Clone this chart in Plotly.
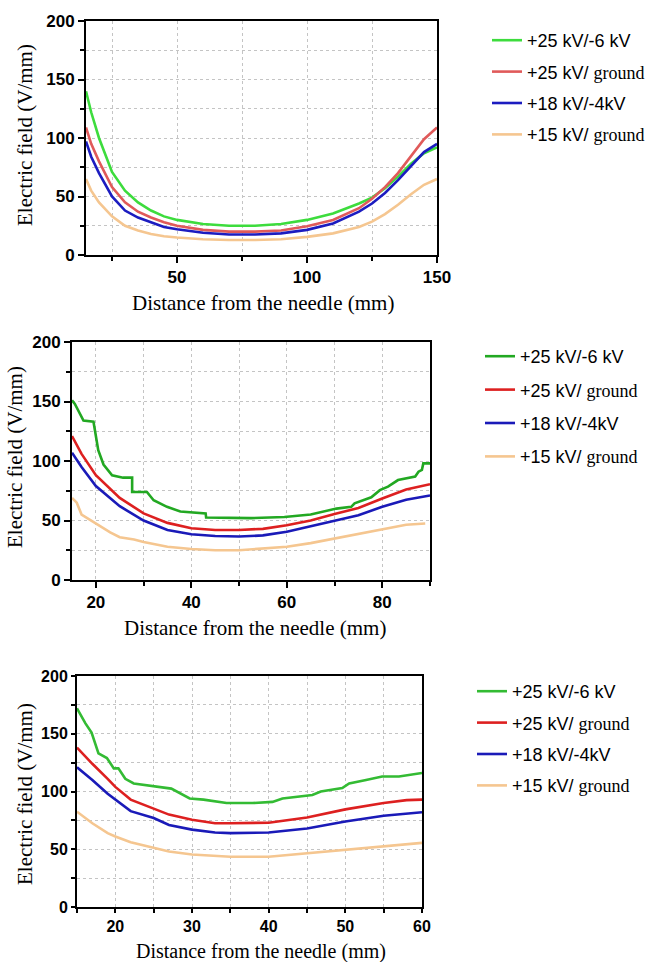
import plotly.graph_objects as go

# ---------------- data ----------------
names = ["+25 kV/-6 kV", "+25 kV/ ground", "+18 kV/-4kV", "+15 kV/ ground"]

# Panel 1 (needle distance 15-150 mm)
p1_x = [15, 17, 20, 25, 30, 35, 40, 45, 50, 60, 70, 80, 90, 100, 110, 120, 125, 130, 135, 140, 145, 150]
p1_green = [140, 122, 100, 71, 55, 45, 38, 33, 30, 26.5, 25, 25, 26.5, 30, 35.5, 44, 49, 57, 67, 78, 87, 92]
p1_red = [109, 95, 80, 58, 45, 37, 32, 28, 25, 21.5, 20, 20, 21, 24.5, 30, 40, 48, 58, 70, 84, 99, 109]
p1_blue = [97, 84, 70, 50, 38, 32, 28, 24, 22, 19, 17.5, 17.5, 18.5, 21.5, 27, 37, 44, 53, 64, 76, 88, 95]
p1_tan = [65, 55, 45, 33, 25, 21, 18, 16, 15, 13.5, 12.8, 12.8, 13.5, 15.5, 18.5, 24, 28.5, 35, 43, 52, 60, 65]

# Panel 2 (15-90 mm)
p2_green_x = [15, 15.6, 17.4, 19.5, 20.5, 21.6, 23.4, 25.7, 27.6, 27.6, 30.7, 32.1, 34.9, 37.7, 43, 43.1,
              52.5, 59.5, 65, 69.3, 70.4, 73.5, 74.2, 77.7, 79.5, 81.2, 83.3, 86.9, 87.6, 88.3, 88.6, 90]
p2_green = [151, 148, 134, 133, 109, 97, 88, 86, 86, 74, 74, 67, 61.5, 57.5, 56, 52.5,
            52, 53, 55, 59, 60, 61.5, 64.5, 69.5, 75.5, 78.5, 84, 87, 91, 92.5, 98, 98]
p2_x = [15, 17, 20, 25, 30, 35, 40, 45, 50, 55, 60, 65, 70, 75, 80, 85, 90]
p2_red = [121, 106, 88, 69, 56, 48, 43.5, 42, 42, 43, 46, 50, 55.5, 60.5, 68.5, 76, 80.5]
p2_blue = [107, 95, 79, 62, 50, 42, 38.5, 37, 36.5, 37.5, 40.5, 45, 49.5, 54.5, 61.5, 67.5, 71]
p2_tan_x = [15, 16, 17, 19, 21, 23, 25, 28, 30, 35, 40, 45, 50, 55, 60, 65, 70, 75, 80, 85, 89]
p2_tan = [69, 65, 55, 50, 45, 40, 36, 34, 32, 28, 26, 25, 25, 26.5, 28, 31, 35, 38.5, 43, 46.5, 47.5]

# Panel 3 (15-60 mm)
p3_green_x = [15, 16.1, 16.9, 17.8, 18.9, 19.8, 20.4, 21.3, 22.4, 24.5, 27.3, 29.7, 31.5, 34.5, 37.9,
              40.5, 41.8, 45.7, 46.8, 49.6, 50.5, 52.7, 54.8, 57, 60]
p3_green = [172, 159, 151, 133, 129, 120, 120, 111, 107, 105, 102.5, 94, 93, 90, 90,
            91, 94, 97, 100, 103, 107, 110, 113, 113, 116]
p3_x = [15, 17, 19, 20, 22, 25, 27, 30, 33, 35, 40, 45, 50, 55, 58, 60]
p3_red = [138, 124, 111, 104, 93, 85.5, 80, 75.5, 72.5, 72.5, 73, 77.5, 84.5, 90, 92.5, 93]
p3_blue = [121, 110, 98, 93, 83, 77, 71, 67, 64.5, 64, 64.5, 68, 74, 79, 81, 82]
p3_tan = [82.5, 72.5, 64, 61, 56, 51, 48, 45.5, 44, 43.5, 43.5, 46.5, 50, 53, 54.5, 55.5]

# ---------------- styling ----------------
W, H = 662, 962
SERIF = "Liberation Serif"
SANS = "Liberation Sans"


def legend_name(n):
    if "ground" in n:
        head = n.replace("ground", "")
        return head + '<span style="font-family:\'%s\'">ground</span>' % SERIF
    return n


panels = [
    dict(series=[(p1_x, p1_green), (p1_x, p1_red), (p1_x, p1_blue), (p1_x, p1_tan)],
         colors=["#3ddc3d", "#e05a5a", "#1c1cc0", "#f5c690"],
         px=(86, 437), py=(21, 255), xr=[15, 150], xd=50, xm=25, tl=6, tf=17),
    dict(series=[(p2_green_x, p2_green), (p2_x, p2_red), (p2_x, p2_blue), (p2_tan_x, p2_tan)],
         colors=["#22a822", "#dd2020", "#1a1ab8", "#f5c690"],
         px=(72, 430), py=(342, 580), xr=[15, 90], xd=20, xm=10, tl=6, tf=17),
    dict(series=[(p3_green_x, p3_green), (p3_x, p3_red), (p3_x, p3_blue), (p3_x, p3_tan)],
         colors=["#33bb33", "#dd2020", "#1a1ab8", "#f5c690"],
         px=(77, 422), py=(676, 907), xr=[15, 60], xd=10, xm=5, tl=4, tf=16),
]

legend_pos = [(487, 22), (480, 338), (472, 673)]
legend_gap = [5, 7, 5]
xtitle_pos = [(263, 303, 21), (255, 628, 21), (261, 951, 20)]
ytitle_pos = [(25, 135), (15, 457), (25, 794)]

fig = go.Figure()
layout = dict(width=W, height=H, margin=dict(l=0, r=0, t=0, b=0),
              paper_bgcolor="white", plot_bgcolor="white", showlegend=True,
              annotations=[])

for i, p in enumerate(panels):
    k = "" if i == 0 else str(i + 1)
    leg = "legend" + k
    for j, (xs, ys) in enumerate(p["series"]):
        fig.add_trace(go.Scatter(
            x=xs, y=ys, mode="lines", name=legend_name(names[j]),
            line=dict(color=p["colors"][j], width=2.6),
            xaxis="x" + k, yaxis="y" + k, legend=leg,
            legendgroup="g%d_%d" % (i, j)))
    axis_common = dict(showline=True, linecolor="black", linewidth=2, mirror=True,
                       ticks="outside", ticklen=p["tl"], tickwidth=2, tickcolor="black",
                       showgrid=True, gridcolor="#c4c4c4", griddash="dot", gridwidth=1,
                       zeroline=False, automargin=False,
                       tickfont=dict(family=SANS, size=p["tf"], color="black", weight="bold"))
    layout["xaxis" + k] = dict(axis_common,
                               domain=[p["px"][0] / W, p["px"][1] / W],
                               anchor="y" + k, range=p["xr"], tick0=0, dtick=p["xd"],
                               minor=dict(dtick=p["xm"], tick0=0, ticks="outside", ticklen=4,
                                          tickwidth=2, tickcolor="black", showgrid=True,
                                          gridcolor="#c4c4c4", griddash="dot"))
    layout["yaxis" + k] = dict(axis_common,
                               domain=[1 - p["py"][1] / H, 1 - p["py"][0] / H],
                               anchor="x" + k, range=[0, 200], tick0=0, dtick=50,
                               minor=dict(dtick=25, tick0=0, ticks="outside", ticklen=4,
                                          tickwidth=2, tickcolor="black", showgrid=True,
                                          gridcolor="#c4c4c4", griddash="dot"))
    lx, ly = legend_pos[i]
    layout[leg] = dict(x=lx / W, y=1 - ly / H, xanchor="left", yanchor="top",
                       bgcolor="rgba(0,0,0,0)", tracegroupgap=legend_gap[i],
                       font=dict(family=SANS, size=18, color="black"))
    tx, ty, ts = xtitle_pos[i]
    layout["annotations"].append(dict(text="Distance from the needle (mm)", x=tx / W, y=1 - ty / H,
                                      xref="paper", yref="paper", showarrow=False,
                                      xanchor="center", yanchor="middle",
                                      font=dict(family=SERIF, size=ts, color="black")))
    yx, yy = ytitle_pos[i]
    layout["annotations"].append(dict(text="Electric field (V/mm)", x=yx / W, y=1 - yy / H,
                                      xref="paper", yref="paper", showarrow=False, textangle=-90,
                                      xanchor="center", yanchor="middle",
                                      font=dict(family=SERIF, size=21, color="black")))

fig.update_layout(**layout)
fig.write_html("out.html", config={"displayModeBar": False},
               post_script="document.body.style.margin='0';document.body.style.overflow='hidden';")
